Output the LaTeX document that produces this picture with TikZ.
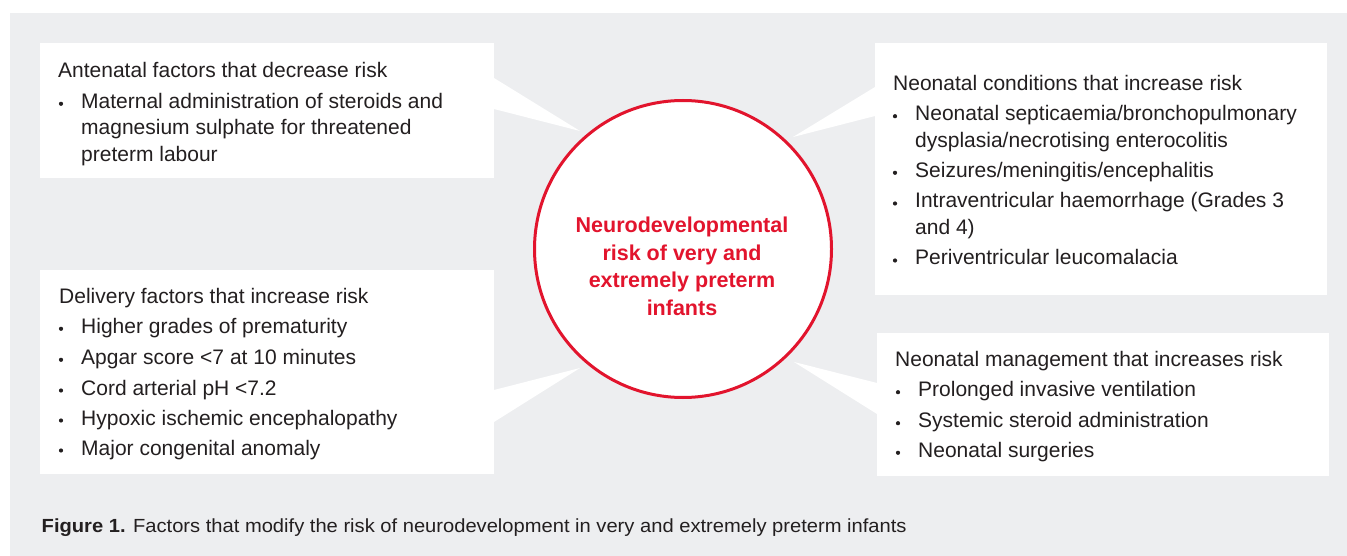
\documentclass[tikz,border=0pt]{standalone}
\usepackage{fontspec}
\setmainfont{Liberation Sans}
\newfontfamily\capfont{Liberation Sans}[FakeStretch=1.06]
\definecolor{panel}{HTML}{EDEEF0}
\definecolor{accent}{RGB}{226,20,45}
\definecolor{ink}{HTML}{231F20}
% one bulleted text line: name, text x, baseline y, text
\newcommand\bulletline[4]{%
  \node[dot] (#1d) at (#2-20,#3-4.5) {};
  \node[line] (#1) at (#2,#3) {#4};}
\newcommand\plainline[4]{\node[line] (#1) at (#2,#3) {#4};}
\begin{document}
\begin{tikzpicture}[x=1pt,y=-1pt,
  box/.style={fill=white,draw=none,inner sep=0pt,anchor=north west},
  line/.style={anchor=base west,inner sep=0pt,text=ink,font=\fontsize{21}{21}\selectfont},
  dot/.style={circle,fill=ink,minimum size=4.2pt,inner sep=0pt},
  hubline/.style={anchor=base,inner sep=0pt,text=accent,font=\fontsize{21.5}{21.5}\selectfont\bfseries},
  pointer/.style={fill=white,draw=none}]
\useasboundingbox (0,0) rectangle (1347,556);
\fill[white] (0,0) rectangle (1347,556);
\fill[panel] (10,13) rectangle (1347,556);

% the four factor panels
\node[box,minimum width=454pt,minimum height=135pt] (tl) at (40,43) {};
\node[box,minimum width=452pt,minimum height=252pt] (tr) at (875,43) {};
\node[box,minimum width=454pt,minimum height=204pt] (bl) at (40,270) {};
\node[box,minimum width=452pt,minimum height=143pt] (br) at (877,333) {};

% callout pointers toward the centre
\fill[pointer] (494,78) -- (580,131) -- (494,109) -- cycle;
\fill[pointer] (875,87) -- (793,137) -- (875,116) -- cycle;
\fill[pointer] (494,390) -- (580,368) -- (494,422) -- cycle;
\fill[pointer] (877,383) -- (794,362) -- (877,414) -- cycle;

% central circle
\node[circle,draw=accent,line width=3pt,fill=white,minimum size=297pt,inner sep=0pt] (hub) at (683,249) {};
\node[hubline] (hub1) at (682,232.3) {Neurodevelopmental};
\node[hubline] (hub2) at (682,260.1) {risk of very and};
\node[hubline] (hub3) at (682,287.9) {extremely preterm};
\node[hubline] (hub4) at (682,315.7) {infants};

% antenatal factors
\plainline{tlh}{58}{77.3}{Antenatal factors that decrease risk}
\bulletline{tl1}{81}{108.3}{Maternal administration of steroids and}
\plainline{tl1b}{81}{134.7}{magnesium sulphate for threatened}
\plainline{tl1c}{81}{161.7}{preterm labour}

% neonatal conditions
\plainline{trh}{893}{90.7}{Neonatal conditions that increase risk}
\bulletline{tr1}{915}{120.7}{Neonatal septicaemia/bronchopulmonary}
\plainline{tr1b}{915}{147.3}{dysplasia/necrotising enterocolitis}
\bulletline{tr2}{915}{177.3}{Seizures/meningitis/encephalitis}
\bulletline{tr3}{915}{208}{Intraventricular haemorrhage (Grades 3}
\plainline{tr3b}{915}{235}{and 4)}
\bulletline{tr4}{915}{265}{Periventricular leucomalacia}

% delivery factors
\plainline{blh}{59}{303.3}{Delivery factors that increase risk}
\bulletline{bl1}{81}{333.3}{Higher grades of prematurity}
\bulletline{bl2}{81}{364.3}{Apgar score <7 at 10 minutes}
\bulletline{bl3}{81}{395}{Cord arterial pH <7.2}
\bulletline{bl4}{81}{425}{Hypoxic ischemic encephalopathy}
\bulletline{bl5}{81}{455}{Major congenital anomaly}

% neonatal management
\plainline{brh}{895}{366.7}{Neonatal management that increases risk}
\bulletline{br1}{918}{396.7}{Prolonged invasive ventilation}
\bulletline{br2}{918}{427.7}{Systemic steroid administration}
\bulletline{br3}{918}{457.3}{Neonatal surgeries}

% caption
\node[anchor=base west,inner sep=0pt,text=ink,font=\capfont\fontsize{19}{19}\selectfont] (cap) at (41.5,532.7)
  {\textbf{Figure 1.} Factors that modify the risk of neurodevelopment in very and extremely preterm infants};
\end{tikzpicture}
\end{document}
